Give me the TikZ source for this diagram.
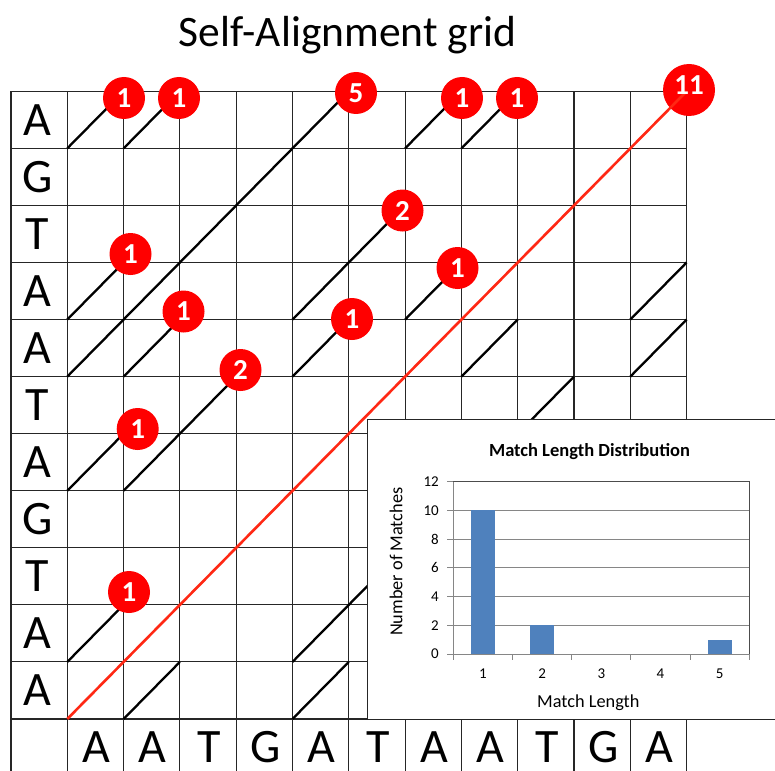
\documentclass[tikz,border=0pt]{standalone}
\usepackage{fontspec}
\setmainfont{Carlito}
\definecolor{redline}{RGB}{255,40,20}
\definecolor{badgered}{RGB}{255,0,0}
\definecolor{barblue}{RGB}{79,129,189}
\definecolor{gridgray}{RGB}{134,134,134}
\newcommand{\badgefont}{\fontsize{29}{29}\selectfont\bfseries}
\begin{document}
\begin{tikzpicture}[x=1pt,y=-1pt,
  gridline/.style={draw=black!85,line width=1.1pt},
  matchline/.style={draw=black,line width=2.3pt},
  diagline/.style={draw=redline,line width=2.6pt},
  badge/.style={circle,fill=badgered,inner sep=0pt,minimum size=42pt,text=white,font=\badgefont},
  bigbadge/.style={badge,minimum size=52pt},
  badgetext/.style={inner sep=0pt,text=white,font=\badgefont},
  seqlabel/.style={font=\fontsize{48}{48}\selectfont,inner sep=0pt},
  charttitle/.style={font=\fontsize{18.5}{18.5}\selectfont\bfseries,inner sep=0pt},
  axistitle/.style={font=\fontsize{18.3}{18.3}\selectfont,inner sep=0pt},
  ticklabel/.style={font=\fontsize{15}{15}\selectfont,inner sep=0pt},
  chartgrid/.style={draw=gridgray,line width=1pt},
  bar/.style={fill=barblue,draw=none}
]
\useasboundingbox (0,0) rectangle (775,770);
\clip (0,0) rectangle (775,770);
\fill[white] (0,0) rectangle (775,770);

% grid coordinates
\foreach \i in {0,...,12}{
  \foreach \j in {0,...,12}{
    \coordinate (g\i-\j) at ({11+\i*56.3},{91.3+\j*57.06});
  }
}

% title
\node[font=\fontsize{43.5}{43.5}\selectfont,inner sep=0pt,anchor=base] (title) at (347.5,47) {Self-Alignment grid};

% grid lines
\foreach \i in {0,...,12}{\draw[gridline] (g\i-0) -- (g\i-12);}
\foreach \j in {0,...,12}{\draw[gridline] (g0-\j) -- (g12-\j);}

% row labels
\foreach \lab [count=\k from 0] in {A,G,T,A,A,T,A,G,T,A,A}{
  \node[seqlabel] (row\k) at (37.5,{91.3+(\k+0.5)*57.06}) {\lab};
}
% column labels
\foreach \lab [count=\k from 1] in {A,A,T,G,A,T,A,A,T,G,A}{
  \node[seqlabel] (col\k) at ({11+(\k+0.5)*56.3+1},747.5) {\lab};
}

% match runs (upper triangle)
\draw[matchline] (g1-10) -- (g2-9);
\draw[matchline] (g7-4) -- (g8-3);
\draw[matchline] (g5-5) -- (g6-4);
\draw[matchline] (g2-7) -- (g4-5);
\draw[matchline] (g5-4) -- (g7-2);
\draw[matchline] (g8-1) -- (g9-0);
\draw[matchline] (g1-7) -- (g2-6);
\draw[matchline] (g7-1) -- (g8-0);
\draw[matchline] (g2-5) -- (g3-4);
\draw[matchline] (g1-5) -- (g6-0);
\draw[matchline] (g1-4) -- (g2-3);
\draw[matchline] (g2-1) -- (g3-0);
\draw[matchline] (g1-1) -- (g2-0);
% match runs (lower triangle)
\draw[matchline] (g2-11) -- (g3-10);
\draw[matchline] (g8-5) -- (g9-4);
\draw[matchline] (g7-7) -- (g8-6);
\draw[matchline] (g5-10) -- (g7-8);
\draw[matchline] (g8-7) -- (g10-5);
\draw[matchline] (g11-4) -- (g12-3);
\draw[matchline] (g5-11) -- (g6-10);
\draw[matchline] (g11-5) -- (g12-4);
\draw[matchline] (g7-10) -- (g8-9);
\draw[matchline] (g7-11) -- (g12-6);
\draw[matchline] (g8-11) -- (g9-10);
\draw[matchline] (g11-10) -- (g12-9);
\draw[matchline] (g11-11) -- (g12-10);

% big badge, main diagonal on top of it
\node[bigbadge] (b6) at (689,90) {};
\draw[diagline] (g1-11) -- (g12-0);
\node[badgetext] (b6t) at (689,85.5) {11};

% badges
\node[badge] (b1) at (124,98) {1};
\node[badge] (b2) at (179,98) {1};
\node[badge] (b3) at (356,93) {5};
\node[badge] (b4) at (462,98) {1};
\node[badge] (b5) at (517,98) {1};
\node[badge] (b7) at (402.5,210.5) {2};
\node[badge] (b8) at (130.5,254) {1};
\node[badge] (b9) at (457.5,268) {1};
\node[badge] (b10) at (183.5,311.5) {1};
\node[badge] (b11) at (352,319) {1};
\node[badge] (b12) at (240.5,370) {2};
\node[badge] (b13) at (137.7,429) {1};
\node[badge] (b14) at (129,592) {1};

% chart
\draw[fill=white,draw=black!85,line width=1pt] (367,419.5) rectangle (790,719);
\node[charttitle] (ctitle) at (589.5,451.7) {Match Length Distribution};
\foreach \k in {0,...,6}{
  \draw[chartgrid] (453.3,{654-\k*28.72}) -- (749.3,{654-\k*28.72});
  \draw[chartgrid] (447.3,{654-\k*28.72}) -- (453.3,{654-\k*28.72});
}
\foreach \v [count=\k from 0] in {0,2,4,6,8,10,12}{
  \node[ticklabel,anchor=east] (yt\k) at (439,{654-\k*28.72}) {\v};
}
\draw[draw=black!70,line width=1pt] (453.3,481.7) -- (749.3,481.7) -- (749.3,654);
\draw[chartgrid] (453.3,481.7) -- (453.3,654) -- (749.3,654);
\foreach \k in {0,...,5}{
  \draw[chartgrid] ({453.3+\k*59.2},654) -- ({453.3+\k*59.2},659.5);
}
\foreach \k in {1,...,5}{
  \node[ticklabel] (xt\k) at ({453.3+(\k-0.5)*59.2},674) {\k};
}
\fill[bar] (471,510.4) rectangle (494.7,654);
\fill[bar] (530.3,625.3) rectangle (554,654);
\fill[bar] (708.3,639.6) rectangle (732,654);
\node[axistitle] (xtitle) at (588.3,703) {Match Length};
\node[axistitle,rotate=90] (ytitle) at (396,561.7) {Number of Matches};
\end{tikzpicture}
\end{document}
